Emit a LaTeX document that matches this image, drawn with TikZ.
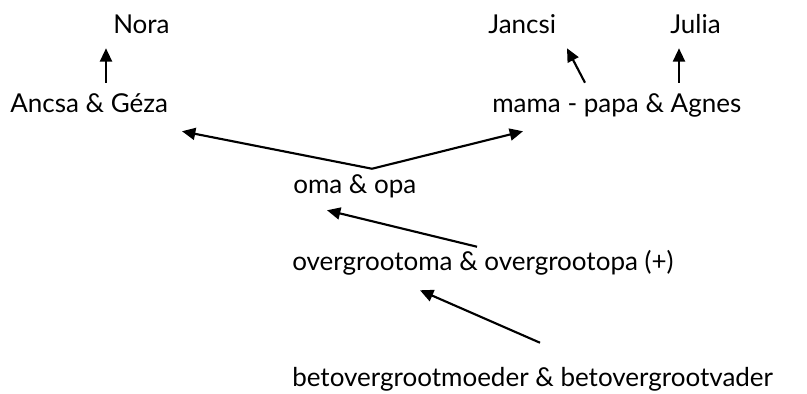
\documentclass[tikz,border=0pt]{standalone}
\usepackage{fontspec}
\setmainfont{Lato}
\usetikzlibrary{positioning,arrows.meta,calc}
\tikzset{
namenode/.style={inner sep=0pt, anchor=base west, text height=13.5pt, text depth=3.75pt, font=\fontsize{19.5}{23}\selectfont},
>={Triangle[width=9pt,length=10pt]},
linkline/.style={->, line width=1.6pt}
}
\begin{document}
\begin{tikzpicture}[x=0.75pt, y=-0.75pt]
\useasboundingbox (0,0) rectangle (807,393);

%Family nodes
\node[namenode] (nora) at(113,33) {Nora};
\node[namenode] (jancsi) at(488,33) {Jancsi};
\node[namenode] (julia) at(670,33) {Julia};
\node[namenode] (ancsa) at(10,112) {Ancsa \& Géza};
\node[namenode] (mama) at(492,112) {mama - papa \& Agnes};
\node[namenode] (oma) at(293,193) {oma \& opa};
\node[namenode] (overgroot) at(292,270) {overgrootoma \& overgrootopa (+)};
\node[namenode] (betover) at(292,386) {betovergrootmoeder \& betovergrootvader};

%Links
\draw[linkline] ($(ancsa.north west)+(96,-11)$) -- ($(nora.south west)+(-7,10)$) ;
\draw[linkline] ($(mama.north west)+(93,-11)$) -- ($(jancsi.south west)+(79,10)$) ;
\draw[linkline] ($(mama.north west)+(187,-11)$) -- ($(julia.south west)+(9,10)$) ;
\draw[linkline] ($(oma.north west)+(79,-6)$) -- ($(ancsa.south west)+(172,14)$) ;
\draw[linkline] ($(oma.north west)+(79,-6)$) -- ($(mama.south west)+(31,14)$) ;
\draw[linkline] ($(overgroot.north west)+(185,-5)$) -- ($(oma.south west)+(34,12)$) ;
\draw[linkline] ($(betover.north west)+(248,-25)$) -- ($(overgroot.south west)+(128,15)$) ;
\end{tikzpicture}
\end{document}
